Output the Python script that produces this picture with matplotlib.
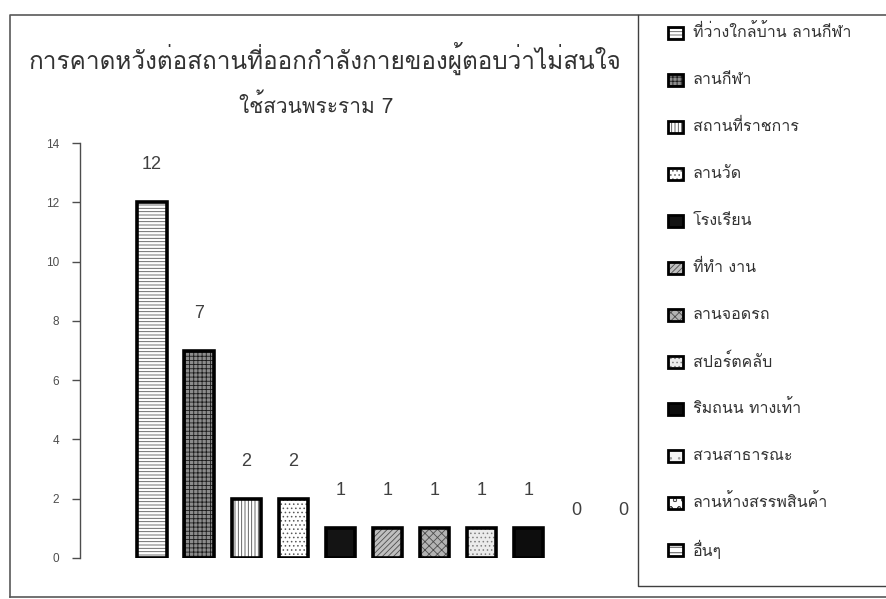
import matplotlib
matplotlib.use("Agg")
import matplotlib.pyplot as plt
from matplotlib.patches import Rectangle

# data
categories = ["ที่ว่างใกล้บ้าน ลานกีฬา", "ลานกีฬา", "สถานที่ราชการ", "ลานวัด", "โรงเรียน",
              "ที่ทำ งาน", "ลานจอดรถ", "สปอร์ตคลับ", "ริมถนน ทางเท้า", "สวนสาธารณะ",
              "ลานห้างสรรพสินค้า", "อื่นๆ"]
values = [12, 7, 2, 2, 1, 1, 1, 1, 1, 0, 0]   # only the first eleven appear in the plot area
yticks = [0, 2, 4, 6, 8, 10, 12, 14]
title1 = "การคาดหวังต่อสถานที่ออกกำลังกายของผู้ตอบว่าไม่สนใจ"
title2 = "ใช้สวนพระราม 7"

# fill style per category: (face, hatch colour, hatch)
styles = [("white", "0.35", "-----"), ("0.55", "0.1", "++++"), ("white", "0.3", "|||||"),
          ("white", "0.35", "...."), ("0.08", "0.08", ""), ("0.75", "0.3", "//////"),
          ("0.7", "0.3", "xxxx"), ("0.92", "0.5", "...."), ("0.05", "0.05", ""),
          ("0.95", "0.6", ".."), ("white", "0.3", "oo"), ("white", "0.2", "---")]

THAI = ["Loma", "DejaVu Sans"]
NUM = ["Liberation Sans", "DejaVu Sans"]
plt.rcParams["hatch.linewidth"] = 0.6

W, H = 886, 599
fig = plt.figure(figsize=(W / 100, H / 100), dpi=100)

# main axes placed in pixel terms: y=0 at 558 px, y=14 at 143 px; bar 0 at x=152, 47.1 px apart
ax_l, ax_r, ax_t, ax_b = 80, 636, 143, 558
ax = fig.add_axes([ax_l / W, 1 - ax_b / H, (ax_r - ax_l) / W, (ax_b - ax_t) / H])
step = 47.1
ax.set_xlim((ax_l - 152) / step, (ax_r - 152) / step)
ax.set_ylim(0, 14)

for i, v in enumerate(values):
    face, hc, hatch = styles[i]
    if v > 0:
        ax.bar(i, v, width=0.62, color=face, edgecolor=hc, hatch=hatch, linewidth=0, zorder=2)
        ax.bar(i, v, width=0.62, facecolor="none", edgecolor="black", linewidth=2.6, zorder=3)
    off = 27 if v > 0 else 34
    ax.annotate(str(v), (i, v), xytext=(0, off), textcoords="offset points",
                ha="center", va="center", fontsize=13, color="0.25", family=NUM)

for s in ["top", "right", "bottom"]:
    ax.spines[s].set_visible(False)
ax.spines["left"].set_color("0.3")
ax.spines["left"].set_linewidth(1.0)
ax.set_xticks([])
ax.set_yticks(yticks)
ax.tick_params(axis="y", direction="out", length=6, width=1.0, color="0.3",
               labelsize=8.5, labelcolor="0.3", pad=9)
for lab in ax.get_yticklabels():
    lab.set_family(NUM)
ax.patch.set_alpha(0)

# overlay in pixel coordinates for frames, titles and legend
ov = fig.add_axes([0, 0, 1, 1], zorder=-1)
ov.set_xlim(0, W)
ov.set_ylim(H, 0)
ov.axis("off")
ov.plot([10, 10, W], [597, 15, 15], color="0.35", lw=1.2)
ov.plot([10, W], [597, 597], color="0.35", lw=1.2)
ov.plot([638, 638, W], [15, 586, 586], color="0.25", lw=1.0)

ov.text(325, 58, title1, ha="center", va="center", fontsize=17.5, color="0.2", family=THAI)
ov.text(316, 105, title2, ha="center", va="center", fontsize=15, color="0.2", family=THAI)

for k, name in enumerate(categories):
    face, hc, hatch = styles[k]
    y = 33 + 47 * k
    ov.add_patch(Rectangle((668, y - 6), 15, 12, facecolor=face, edgecolor=hc, hatch=hatch, lw=0))
    ov.add_patch(Rectangle((668, y - 6), 15, 12, facecolor="none", edgecolor="black", lw=2.0))
    ov.text(693, y, name, ha="left", va="center", fontsize=11.5, color="0.2", family=THAI)

fig.savefig("out.png", dpi=100)
